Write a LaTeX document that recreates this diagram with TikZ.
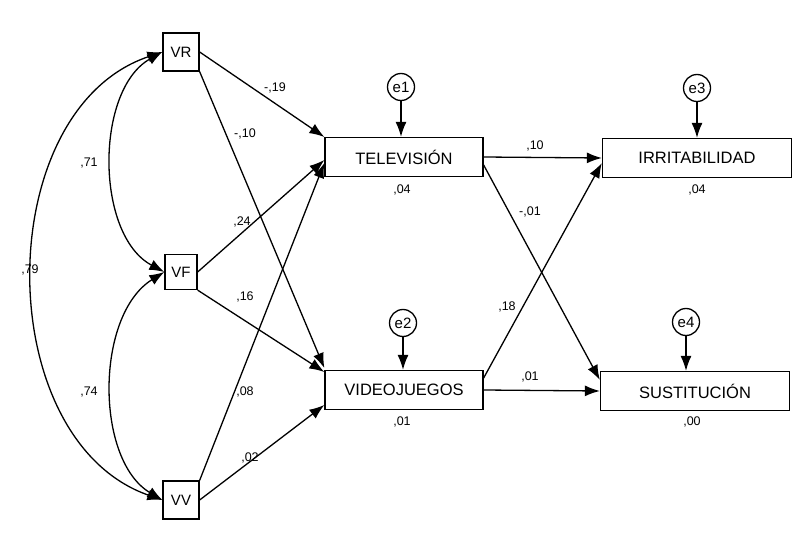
\documentclass[tikz,border=0pt]{standalone}
\usepackage{fontspec}
\setmainfont{Liberation Sans}
\usetikzlibrary{arrows.meta,positioning}
\begin{document}
\begin{tikzpicture}[x=1pt,y=-1pt,
    obs/.style={draw, line width=1.3pt, minimum width=36pt, minimum height=38pt, inner sep=1pt, font=\fontsize{15}{16}\selectfont},
    dep/.style={draw, line width=1.3pt, minimum height=39pt, font=\fontsize{16.5}{18}\selectfont},
    err/.style={draw, circle, line width=1.3pt, minimum size=27pt, inner sep=0pt, font=\fontsize{15}{16}\selectfont},
    path/.style={-{Latex[length=15pt,width=11pt]}, line width=1.3pt},
    cov/.style={{Latex[length=15pt,width=11pt]}-{Latex[length=15pt,width=11pt]}, line width=1.3pt},
    lbl/.style={font=\fontsize{12.5}{14}\selectfont}]
\useasboundingbox (0,0) rectangle (801,553);
% observed exogenous
\node[obs] (vr) at (181,52) {VR};
\node[obs, minimum width=32pt, minimum height=35pt] (vf) at (181,272) {VF};
\node[obs] (vv) at (181,500) {VV};
% mediators and outcomes
\node[dep, minimum width=158pt] (tv) at (404,157) {TELEVISIÓN};
\node[dep, minimum width=158pt] (vj) at (404,390) {VIDEOJUEGOS};
\node[dep, minimum width=189pt] (irr) at (697,158) {IRRITABILIDAD};
\node[dep, minimum width=189pt] (sus) at (695,391) {SUSTITUCIÓN};
% errors
\node[err] (e1) at (401,87) {e1};
\node[err] (e2) at (403,323) {e2};
\node[err] (e3) at (697,88) {e3};
\node[err] (e4) at (686,322) {e4};
\foreach \e/\t in {e1/tv,e2/vj,e3/irr,e4/sus}
    \draw[path] (\e) -- (\e |- \t.north);
% paths
\draw[path] (vr.east) -- (tv.west |- 0,137);
\draw[path] (vr.south east) -- (vj.west |- 0,368);
\draw[path] (vf.east) -- (tv.west |- 0,160);
\draw[path] (vf.south east) -- (vj.west |- 0,372);
\draw[path] (vv.north east) -- (tv.west |- 0,163);
\draw[path] (vv.east) -- (vj.west |- 0,405);
\draw[path] (tv.east) -- (irr.west);
\draw[path] (tv.east |- 0,165) -- (sus.west |- 0,380);
\draw[path] (vj.east |- 0,378) -- (irr.west |- 0,163);
\draw[path] (vj.east) -- (sus.west);
% covariances
\draw[cov] (vr.west) .. controls (95,90) and (95,235) .. (vf.west);
\draw[cov] (vf.west) .. controls (95,315) and (95,460) .. (vv.west);
\draw[cov] (vr.west) .. controls (-10,110) and (-10,440) .. (vv.west);
% labels
\node[lbl] (l1) at (275,88) {-,19};
\node[lbl] (l2) at (245,134) {-,10};
\node[lbl] (l3) at (89,163) {,71};
\node[lbl] (l4) at (30,270) {,79};
\node[lbl] (l5) at (89,392) {,74};
\node[lbl] (l6) at (242,222) {,24};
\node[lbl] (l7) at (245,297) {,16};
\node[lbl] (l8) at (245,392) {,08};
\node[lbl] (l9) at (250,458) {,02};
\node[lbl] (l10) at (535,146) {,10};
\node[lbl] (l11) at (530,212) {-,01};
\node[lbl] (l12) at (507,307) {,18};
\node[lbl] (l13) at (530,377) {,01};
\node[lbl] (r1) at (402,190) {,04};
\node[lbl] (r2) at (402,422) {,01};
\node[lbl] (r3) at (697,190) {,04};
\node[lbl] (r4) at (692,422) {,00};
\end{tikzpicture}
\end{document}
